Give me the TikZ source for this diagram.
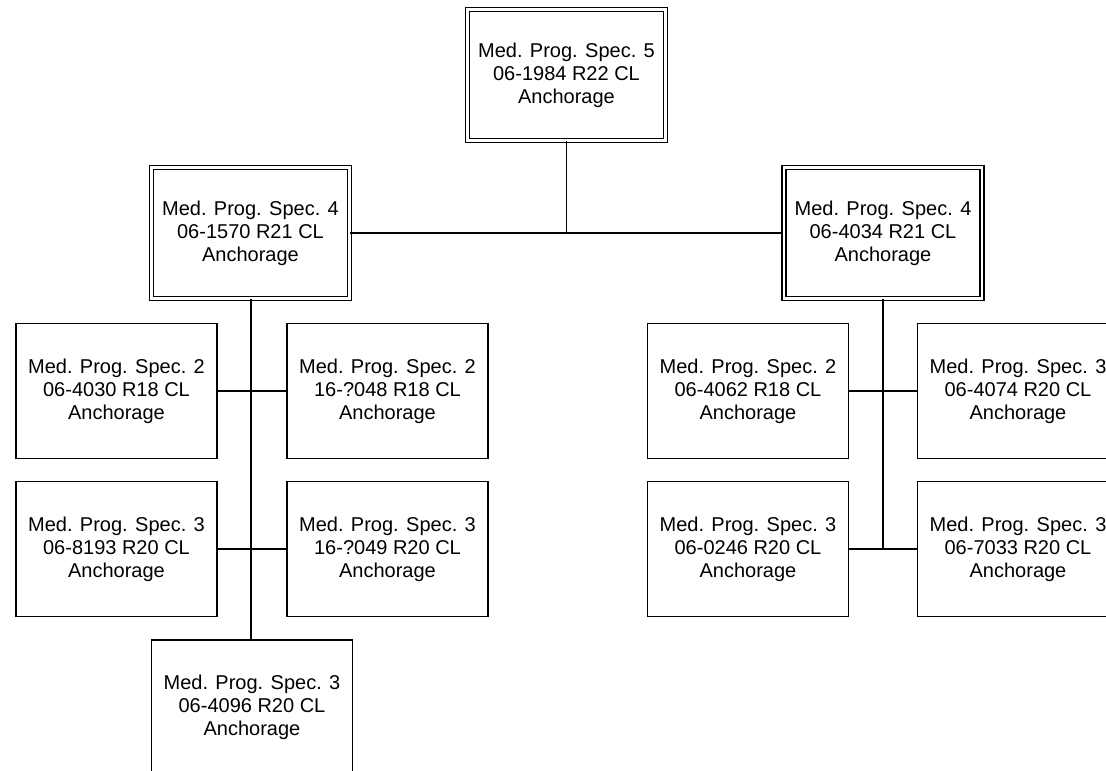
\documentclass[tikz,border=0pt]{standalone}
\usepackage{fontspec}
\setmainfont{Liberation Sans}
\begin{document}
\begin{tikzpicture}[x=1pt,y=-1pt,
  post/.style={draw,line width=1.5pt,minimum width=201pt,minimum height=135pt,inner sep=1pt,align=center,font=\fontsize{20}{23}\selectfont},
  chief/.style={post,double,line width=1.1pt,double distance=2.9pt,minimum width=198pt,minimum height=131pt},
  link/.style={line width=1.5pt}]
\useasboundingbox (0,0) rectangle (1106,771);
\clip (0,0) rectangle (1106,771);

\node(T)[chief] at (566.5,75) {Med. Prog. Spec. 5\\06-1984 R22 CL\\Anchorage};
\node(L)[chief] at (250.5,233) {Med. Prog. Spec. 4\\06-1570 R21 CL\\Anchorage};
\node(R)[chief] at (883,233) {Med. Prog. Spec. 4\\06-4034 R21 CL\\Anchorage};

\node(LA)[post] at (116.5,391) {Med. Prog. Spec. 2\\06-4030 R18 CL\\Anchorage};
\node(LB)[post] at (387.5,391) {Med. Prog. Spec. 2\\16-?048 R18 CL\\Anchorage};
\node(LC)[post] at (116.5,549) {Med. Prog. Spec. 3\\06-8193 R20 CL\\Anchorage};
\node(LD)[post] at (387.5,549) {Med. Prog. Spec. 3\\16-?049 R20 CL\\Anchorage};
\node(LE)[post] at (252,707.5) {Med. Prog. Spec. 3\\06-4096 R20 CL\\Anchorage};

\node(RA)[post] at (748,391) {Med. Prog. Spec. 2\\06-4062 R18 CL\\Anchorage};
\node(RB)[post] at (1018,391) {Med. Prog. Spec. 3\\06-4074 R20 CL\\Anchorage};
\node(RC)[post] at (748,549) {Med. Prog. Spec. 3\\06-0246 R20 CL\\Anchorage};
\node(RD)[post] at (1018,549) {Med. Prog. Spec. 3\\06-7033 R20 CL\\Anchorage};

\draw[link] (L) -- (R);
\draw[link] (T.south) -- (T.south |- L.east);

\draw[link,line width=2pt] (L.south) -- (L.south |- LE.north);
\draw[link] (LA) -- (LB);
\draw[link] (LC) -- (LD);

\draw[link] (R.south) -- (R.south |- RC.east);
\draw[link] (RA) -- (RB);
\draw[link] (RC) -- (RD);

\end{tikzpicture}
\end{document}
